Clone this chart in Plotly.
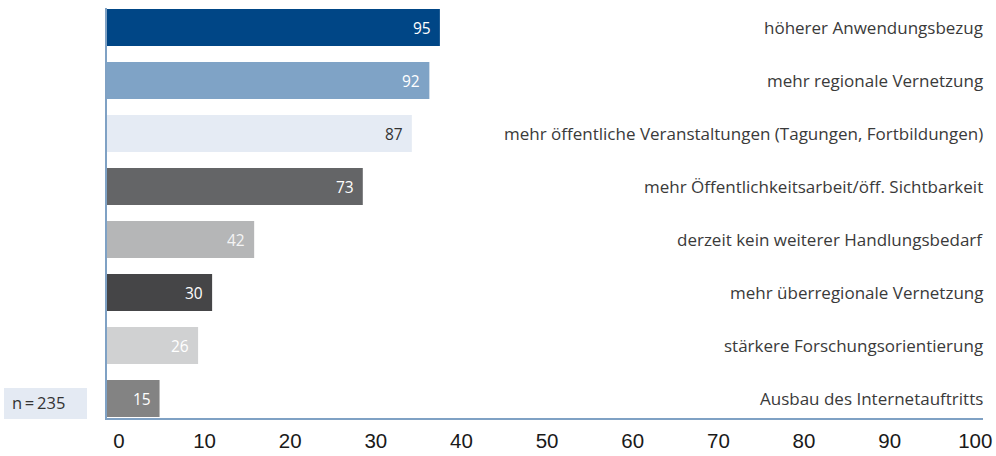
import plotly.graph_objects as go

# ---- data ----
categories = [
    "höherer Anwendungsbezug",
    "mehr regionale Vernetzung",
    "mehr öffentliche Veranstaltungen (Tagungen, Fortbildungen)",
    "mehr Öffentlichkeitsarbeit/öff. Sichtbarkeit",
    "derzeit kein weiterer Handlungsbedarf",
    "mehr überregionale Vernetzung",
    "stärkere Forschungsorientierung",
    "Ausbau des Internetauftritts",
]
counts = [95, 92, 87, 73, 42, 30, 26, 15]
bar_colors = ["#004686", "#7fa3c6", "#e5ebf4", "#646567", "#b5b6b7", "#454547", "#d0d1d2", "#838383"]
value_colors = ["#ffffff", "#ffffff", "#333333", "#ffffff", "#f4f4f4", "#ffffff", "#ffffff", "#ffffff"]
tick_values = [0, 10, 20, 30, 40, 50, 60, 70, 80, 90, 100]
tick_labels = [str(v) for v in tick_values]
sample_note = "n\u2009=\u2009235"

AXIS_COLOR = "#7fa1c4"
TEXT_FONT = "Open Sans"

fig = go.Figure()
fig.add_trace(go.Bar(
    x=counts, y=categories, orientation="h",
    marker=dict(color=bar_colors, line=dict(width=0)),
    hoverinfo="skip", showlegend=False,
))
# invisible trace so the percentage scale axis is rendered
fig.add_trace(go.Scatter(
    x=[tick_values[0], tick_values[-1]], y=[categories[0], categories[0]],
    xaxis="x2", mode="markers", marker=dict(opacity=0),
    hoverinfo="skip", showlegend=False,
))

annotations = []
for cat, val, col in zip(categories, counts, value_colors):
    annotations.append(dict(
        x=val, y=cat, xref="x", yref="y", text=str(val), showarrow=False,
        xanchor="right", yanchor="middle", xshift=-7,
        font=dict(family=TEXT_FONT, size=15.5, color=col),
    ))
    annotations.append(dict(
        x=1, y=cat, xref="paper", yref="y", text=cat, showarrow=False,
        xanchor="right", yanchor="middle", xshift=2,
        font=dict(family=TEXT_FONT, size=17, color="#3a3a3a"),
    ))
annotations.append(dict(
    x=-0.1084, y=0.0366, xref="paper", yref="paper", text=sample_note,
    showarrow=False, xanchor="left", yanchor="middle", xshift=-2,
    font=dict(family=TEXT_FONT, size=16.5, color="#333333"),
))

n = len(categories)
fig.update_layout(
    width=996, height=456,
    margin=dict(l=107, r=13, t=8, b=38, pad=0, autoexpand=False),
    paper_bgcolor="white", plot_bgcolor="white",
    bargap=0.302,
    annotations=annotations,
    shapes=[dict(
        type="rect", xref="paper", yref="paper",
        x0=-0.1176, x1=-0.0228, y0=-0.0024, y1=0.0732,
        fillcolor="#e4eaf3", line=dict(width=0), layer="below",
    )],
    xaxis=dict(
        range=[0, 250], showline=True, linecolor=AXIS_COLOR, linewidth=2,
        showticklabels=False, showgrid=False, zeroline=False, ticks="",
        automargin=False, fixedrange=True,
    ),
    xaxis2=dict(
        overlaying="x", anchor="y", side="bottom",
        range=[-1.397, 100.9], tickvals=tick_values, ticktext=tick_labels,
        tickfont=dict(family="Liberation Sans", size=20.5, color="#1a1a1a"),
        showgrid=False, zeroline=False, showline=False,
        ticks="outside", ticklen=4, tickcolor="rgba(0,0,0,0)",
        ticklabeloverflow="allow", automargin=False, fixedrange=True,
    ),
    yaxis=dict(
        type="category", categoryarray=categories,
        range=[n - 1 + 0.368, -0.368],
        showline=True, linecolor=AXIS_COLOR, linewidth=2,
        showticklabels=False, showgrid=False, zeroline=False, ticks="",
        automargin=False, fixedrange=True,
    ),
)

fig.write_html(
    "out.html",
    config={"displayModeBar": False, "staticPlot": True},
    post_script="document.body.style.margin='0px';",
)
